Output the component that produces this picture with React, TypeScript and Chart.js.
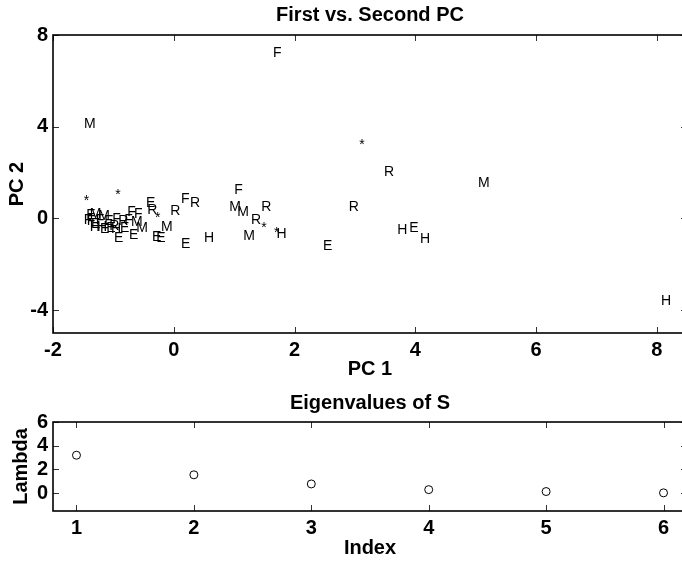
import React, { useEffect, useRef } from "react";
import { Chart, registerables } from "chart.js";

Chart.register(...registerables);

// ---------- data ----------
const pc1 = [
  1.645, -1.486, 3.07, 3.48, 5.04, 1.0, 0.92, 1.05, 1.45, 1.28,
  1.45, 1.66, 1.7, 1.15, 0.5, 2.9, 2.47, 3.7, 3.9, 4.08,
  8.07, -1.49, -0.97, -0.46, 0.12, 0.27, -0.06, -0.44, -0.31, 0.12,
  -0.21, -0.36, -0.29, -0.74, -0.62, -0.99, -0.77, -0.66, -1.45, -1.39,
  -1.25, -1.49, -1.44, -1.27, -1.12, -1.29, -1.15, -1.02, -0.92, -0.82,
  -0.71, -1.37, -1.39, -1.22, -1.07, -0.89, -1.04,
];
const pc2 = [
  7.21, 4.11, 3.2, 2.02, 1.54, 1.23, 0.48, 0.29, 0.48, -0.07,
  -0.42, -0.64, -0.7, -0.77, -0.87, 0.48, -1.21, -0.51, -0.44, -0.92,
  -3.61, 0.74, 1.03, 0.68, 0.83, 0.65, 0.33, 0.36, 0.01, -1.12,
  -0.37, -0.8, -0.87, -0.73, -0.44, -0.87, 0.29, 0.19, 0.14, 0.17,
  0.11, -0.07, -0.12, -0.37, -0.44, -0.07, -0.12, -0.03, -0.12, -0.07,
  -0.16, -0.25, -0.38, -0.47, -0.34, -0.42, -0.47,
];
const groupLabels = [
  "F", "M", "*", "R", "M", "F", "M", "M", "R", "R",
  "*", "*", "H", "M", "H", "R", "E", "H", "E", "H",
  "H", "*", "*", "E", "F", "R", "R", "R", "*", "E",
  "M", "E", "E", "E", "M", "E", "F", "F", "E", "M",
  "M", "F", "F", "H", "E", "F", "E", "F", "R", "F",
  "M", "E", "H", "E", "R", "E", "H",
];

const eigIndex = [1, 2, 3, 4, 5, 6];
const eigValues = [3.2, 1.55, 0.78, 0.3, 0.14, 0.03];

const pcXTicks = [-2, 0, 2, 4, 6, 8];
const pcYTicks = [-4, 0, 4, 8];
const eigXTicks = [1, 2, 3, 4, 5, 6];
const eigYTicks = [0, 2, 4, 6];

// ---------- styling helpers ----------
const BOLD_FONT = "'Liberation Sans Narrow', 'Liberation Sans', Arial, sans-serif";
const tickFont = { family: BOLD_FONT, size: 20, weight: "bold" as const };

function fixedTicks(values: number[]) {
  return (scale: any) => {
    scale.ticks = values.map((v) => ({ value: v }));
  };
}

const matlabFrame = {
  id: "matlabFrame",
  afterDraw(chart: any, _args: any, opts: any) {
    const { ctx, chartArea } = chart;
    const { left, right, top, bottom } = chartArea;
    const xs = chart.scales.x;
    const ys = chart.scales.y;
    ctx.save();
    ctx.strokeStyle = "#333";
    ctx.lineWidth = 1;
    const tl = 6;
    ctx.beginPath();
    xs.ticks.forEach((t: any) => {
      const p = Math.round(xs.getPixelForValue(t.value)) + 0.5;
      ctx.moveTo(p, bottom);
      ctx.lineTo(p, bottom - tl);
      ctx.moveTo(p, top);
      ctx.lineTo(p, top + tl);
    });
    ys.ticks.forEach((t: any) => {
      const p = Math.round(ys.getPixelForValue(t.value)) + 0.5;
      ctx.moveTo(left, p);
      ctx.lineTo(left + tl, p);
      ctx.moveTo(right, p);
      ctx.lineTo(right - tl, p);
    });
    ctx.stroke();
    ctx.strokeStyle = "#000";
    ctx.lineWidth = 1.6;
    ctx.strokeRect(left, top, right - left, bottom - top);

    ctx.fillStyle = "#000";
    ctx.font = `bold 20px ${BOLD_FONT}`;
    ctx.textAlign = "center";
    ctx.textBaseline = "middle";
    const cx = (left + right) / 2;
    ctx.fillText(opts.title, cx, top + opts.titleOffset);
    ctx.fillText(opts.xLabel, cx, bottom + opts.xLabelOffset);
    ctx.save();
    ctx.translate(opts.yLabelX, (top + bottom) / 2);
    ctx.rotate(-Math.PI / 2);
    ctx.fillText(opts.yLabel, 0, 0);
    ctx.restore();
    ctx.restore();
  },
};

const textMarkers = {
  id: "textMarkers",
  afterDatasetsDraw(chart: any, _args: any, opts: any) {
    if (!opts || !opts.labels) return;
    const { ctx } = chart;
    const meta = chart.getDatasetMeta(0);
    ctx.save();
    ctx.fillStyle = "#000";
    ctx.font = `14px 'Liberation Sans', Arial, Helvetica, sans-serif`;
    ctx.textAlign = "left";
    ctx.textBaseline = "middle";
    meta.data.forEach((el: any, i: number) => {
      ctx.fillText(opts.labels[i], el.x, el.y);
    });
    ctx.restore();
  },
};

function baseScale(
  min: number,
  max: number,
  ticks: number[],
  axis: "x" | "y",
  size: number,
  pad: number
) {
  return {
    type: "linear" as const,
    min,
    max,
    grid: { display: false, drawTicks: false },
    border: { display: false },
    ticks: {
      font: tickFont,
      color: "#000",
      padding: pad,
      maxRotation: 0,
      minRotation: 0,
      autoSkip: false,
    },
    afterBuildTicks: fixedTicks(ticks),
    afterFit: (s: any) => {
      if (axis === "x") s.height = size;
      else s.width = size;
      s.paddingLeft = 0;
      s.paddingRight = 0;
      s.paddingTop = 0;
      s.paddingBottom = 0;
    },
  };
}

function TopChart() {
  const ref = useRef<HTMLCanvasElement | null>(null);
  useEffect(() => {
    if (!ref.current) return;
    const chart = new Chart(ref.current, {
      type: "scatter",
      data: {
        datasets: [
          {
            data: pc1.map((x, i) => ({ x, y: pc2[i] })),
            pointRadius: 0,
            pointHoverRadius: 0,
          },
        ],
      },
      options: {
        animation: false,
        responsive: false,
        devicePixelRatio: 1,
        events: [],
        layout: { padding: { top: 35, right: 13, left: 0, bottom: 0 } },
        plugins: {
          legend: { display: false },
          tooltip: { enabled: false },
          title: { display: false },
          textMarkers: { labels: groupLabels },
          matlabFrame: {
            title: "First vs. Second PC",
            titleOffset: -20,
            xLabel: "PC 1",
            xLabelOffset: 36,
            yLabel: "PC 2",
            yLabelX: 17,
          },
        } as any,
        scales: {
          x: baseScale(-2, 8.5, pcXTicks, "x", 47, 5),
          y: baseScale(-5, 8, pcYTicks, "y", 53, 5),
        },
      },
      plugins: [textMarkers, matlabFrame],
    });
    return () => chart.destroy();
  }, []);
  return (
    <canvas
      ref={ref}
      width={700}
      height={380}
      style={{ position: "absolute", left: 0, top: 0, width: 700, height: 380 }}
    />
  );
}

function BottomChart() {
  const ref = useRef<HTMLCanvasElement | null>(null);
  useEffect(() => {
    if (!ref.current) return;
    const chart = new Chart(ref.current, {
      type: "scatter",
      data: {
        datasets: [
          {
            data: eigIndex.map((x, i) => ({ x, y: eigValues[i] })),
            pointRadius: 4,
            pointHoverRadius: 4,
            pointStyle: "circle",
            backgroundColor: "rgba(0,0,0,0)",
            borderColor: "#000",
            borderWidth: 1,
          },
        ],
      },
      options: {
        animation: false,
        responsive: false,
        devicePixelRatio: 1,
        events: [],
        layout: { padding: { top: 42, right: 13, left: 0, bottom: 0 } },
        plugins: {
          legend: { display: false },
          tooltip: { enabled: false },
          title: { display: false },
          matlabFrame: {
            title: "Eigenvalues of S",
            titleOffset: -19,
            xLabel: "Index",
            xLabelOffset: 37,
            yLabel: "Lambda",
            yLabelX: 21,
          },
        } as any,
        scales: {
          x: baseScale(0.8, 6.2, eigXTicks, "x", 50, 5),
          y: baseScale(-1.5, 6, eigYTicks, "y", 53, 5),
        },
      },
      plugins: [matlabFrame],
    });
    return () => chart.destroy();
  }, []);
  return (
    <canvas
      ref={ref}
      width={700}
      height={181}
      style={{ position: "absolute", left: 0, top: 380, width: 700, height: 181 }}
    />
  );
}

export default function App() {
  return (
    <div
      style={{
        position: "fixed",
        left: 0,
        top: 0,
        width: 682,
        height: 561,
        overflow: "hidden",
        background: "#fff",
      }}
    >
      <TopChart />
      <BottomChart />
    </div>
  );
}
